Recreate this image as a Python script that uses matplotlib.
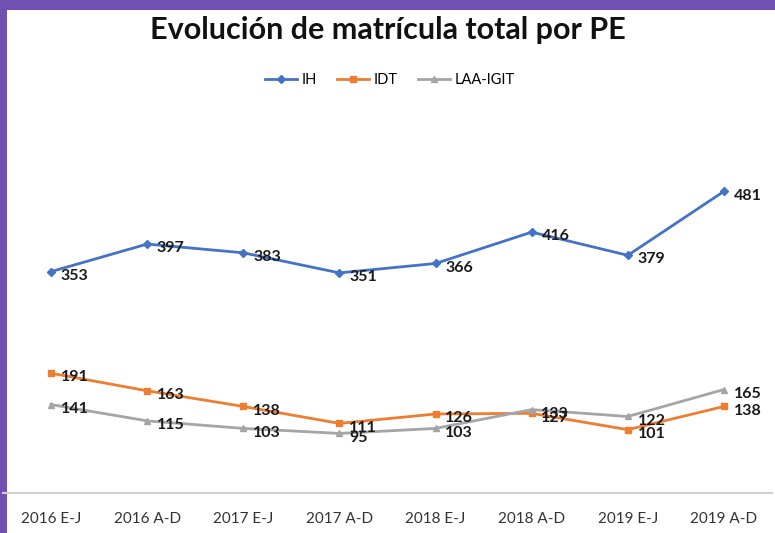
import numpy as np
import matplotlib.pyplot as plt
from matplotlib.patches import Rectangle

periodos = ["2016 E-J", "2016 A-D", "2017 E-J", "2017 A-D",
            "2018 E-J", "2018 A-D", "2019 E-J", "2019 A-D"]
ih = [353, 397, 383, 351, 366, 416, 379, 481]
idt = [191, 163, 138, 111, 126, 127, 101, 138]
laa = [141, 115, 103, 95, 103, 133, 122, 165]

plt.rcParams['font.family'] = ['Lato', 'DejaVu Sans']

fig = plt.figure(figsize=(7.75, 5.33), dpi=100)
# marco morado
fig.patches.append(Rectangle((0, 0), 1, 1, transform=fig.transFigure,
                             facecolor="#7050b0", edgecolor="none", zorder=-10))
fig.patches.append(Rectangle((7/775, 0), 1, 1 - 10/533, transform=fig.transFigure,
                             facecolor="white", edgecolor="none", zorder=-9))

ax = fig.add_axes([3/775, 40/533, 769/775, 333/533])
ax.patch.set_visible(False)
x = np.arange(len(periodos))

series = [("IH", ih, "#4472c4", "D", 4),
          ("IDT", idt, "#ed7d31", "s", 5),
          ("LAA-IGIT", laa, "#a5a5a5", "^", 5)]
for nombre, vals, color, mk, ms in series:
    ax.plot(x, vals, color=color, marker=mk, markersize=ms, linewidth=2, label=nombre)
    for xi, v in zip(x, vals):
        ax.annotate(str(v), (xi, v), xytext=(7, -3), textcoords="offset points",
                    ha="left", va="center", fontsize=11.5, fontweight="bold", color="#1a1a1a")

ax.set_xlim(-0.5, 7.5)
ax.set_ylim(0, 531)
ax.set_xticks(x)
ax.set_xticklabels(periodos, fontsize=11, color="#333333")
ax.set_yticks([])
for s in ["top", "right", "left"]:
    ax.spines[s].set_visible(False)
ax.spines["bottom"].set_color("#d0d0d0")
ax.spines["bottom"].set_linewidth(1.5)
ax.tick_params(axis="x", length=0, pad=14)

fig.text(0.5, 1 - 30/533, "Evolución de matrícula total por PE", ha="center", va="center",
         fontsize=22, fontweight="bold", color="#111111")
ax.legend(loc="center", bbox_to_anchor=(390/775, 1 - 80/533), bbox_transform=fig.transFigure,
          ncol=3, frameon=False, handlelength=2.2, columnspacing=1.4,
          handletextpad=0.3, prop={"size": 10.5})

fig.savefig("out.png", dpi=100)
